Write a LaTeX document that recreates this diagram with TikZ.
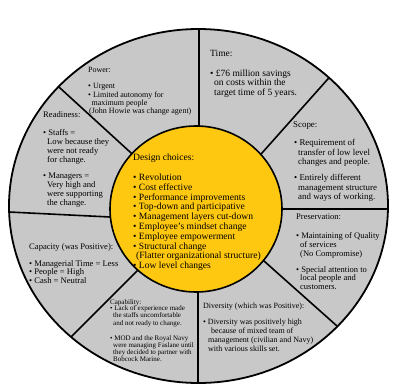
\documentclass[tikz,border=0pt]{standalone}
\usepackage{fontspec}
\setmainfont{Liberation Serif}
\definecolor{wheelgray}{RGB}{200,200,200}
\definecolor{coreyellow}{RGB}{254,200,16}
\begin{document}
\begin{tikzpicture}[x=1pt,y=-1pt,
  lbl/.style={anchor=north west, inner sep=0pt, align=left, text=black},
  spoke/.style={line width=1.6pt, black, shorten >=-8pt, shorten <=-6pt}]
\useasboundingbox (0,0) rectangle (400,388);
\coordinate (oc) at (198.5,206);
\coordinate (ic) at (196,209);
% outer wheel
\fill[wheelgray] (oc) ellipse [x radius=189.5pt, y radius=177pt];
% spoke end points
\coordinate (i1) at (199,126); \coordinate (o1) at (199,29);
\coordinate (i2) at (262,153); \coordinate (o2) at (327,80);
\coordinate (i3) at (282,209); \coordinate (o3) at (388,209);
\coordinate (i4) at (264,261); \coordinate (o4) at (337,326);
\coordinate (i5) at (198,292); \coordinate (o5) at (198,383);
\coordinate (i6) at (135,273); \coordinate (o6) at (72,336);
\coordinate (i7) at (110,217); \coordinate (o7) at (9,212);
\coordinate (i8) at (130,152); \coordinate (o8) at (60,88);
\begin{scope}
  \clip (oc) ellipse [x radius=189.5pt, y radius=177pt];
  \foreach \k in {1,...,8} \draw[spoke] (i\k) -- (o\k);
\end{scope}
% core
\fill[coreyellow] (ic) ellipse [x radius=86pt, y radius=83pt];
\draw[line width=1.6pt] (ic) ellipse [x radius=86pt, y radius=83pt];
\draw[line width=1.8pt] (oc) ellipse [x radius=189.5pt, y radius=177pt];
% texts
\node[lbl, font=\fontsize{8}{8.3}\selectfont] (power) at (88,67.4)
  {Power:\\[7.7pt]
   • Urgent\\
   • Limited autonomy for\\
   \hspace*{3.5pt}maximum people\\
   \hspace*{1pt}(John Howie was change agent)};
\node[lbl, font=\fontsize{9.5}{9.6}\selectfont] (time) at (210,49.6)
  {Time:\\[10.4pt]
   • £76 million savings\\
   \hspace*{4pt}on costs within the\\
   \hspace*{4pt}target time of 5 years.};
\node[lbl, font=\fontsize{8.9}{9.5}\selectfont] (scope) at (293,121.9)
  {Scope:\\[8.5pt]
   \hspace*{1pt}• Requirement of\\
   \hspace*{5pt}transfer of low level\\
   \hspace*{5pt}changes and people.\\[6.5pt]
   \hspace*{1pt}• Entirely different\\
   \hspace*{5pt}management structure\\
   \hspace*{5pt}and ways of working.};
\node[lbl, font=\fontsize{8.5}{8.6}\selectfont] (pres) at (296,214)
  {Preservation:\\[10.4pt]
   • Maintaining of Quality\\
   \hspace*{4pt}of services\\
   \hspace*{4pt}(No Compromise)\\[7.4pt]
   • Special attention to\\
   \hspace*{4pt}local people and\\
   \hspace*{4pt}customers.};
\node[lbl, font=\fontsize{8}{9}\selectfont] (div) at (203,302.4)
  {Diversity (which was Positive):\\[7pt]
   • Diversity was positively high\\
   \hspace*{8pt}because of mixed team of\\
   \hspace*{5pt}management (civilian and Navy)\\
   \hspace*{5pt}with various skills set.};
\node[lbl, font=\fontsize{7}{7.2}\selectfont] (cap) at (110,299.6)
  {Capability:\\[-1.2pt]
   • Lack of experience made\\
   \hspace*{3pt}the staffs uncomfortable\\
   \hspace*{3pt}and not ready to change.\\[8pt]
   • MOD and the Royal Navy\\
   \hspace*{3pt}were managing Faslane until\\
   \hspace*{3pt}they decided to partner with\\
   \hspace*{3pt}Bobcock Marine.};
\node[lbl, font=\fontsize{8.6}{8.6}\selectfont] (capa) at (29,243)
  {Capacity (was Positive):\\[8.4pt]
   • Managerial Time = Less\\
   • People = High\\
   • Cash = Neutral};
\node[lbl, font=\fontsize{8.6}{9}\selectfont] (ready) at (43,111)
  {Readiness:\\[9pt]
   • Staffs =\\
   \hspace*{4pt}Low because they\\
   \hspace*{4pt}were not ready\\
   \hspace*{4pt}for change.\\[7pt]
   • Managers =\\
   \hspace*{4pt}Very high and\\
   \hspace*{4pt}were supporting\\
   \hspace*{4pt}the change.};
\node[lbl, font=\fontsize{9.6}{9.8}\selectfont] (design) at (133,153.7)
  {Design choices:\\[10.2pt]
   • Revolution\\
   • Cost effective\\
   • Performance improvements\\
   • Top-down and participative\\
   • Management layers cut-down\\
   • Employee’s mindset change\\
   • Employee empowerment\\
   • Structural change\\
   \hspace*{3pt}(Flatter organizational structure)\\
   • Low level changes};
\end{tikzpicture}
\end{document}
